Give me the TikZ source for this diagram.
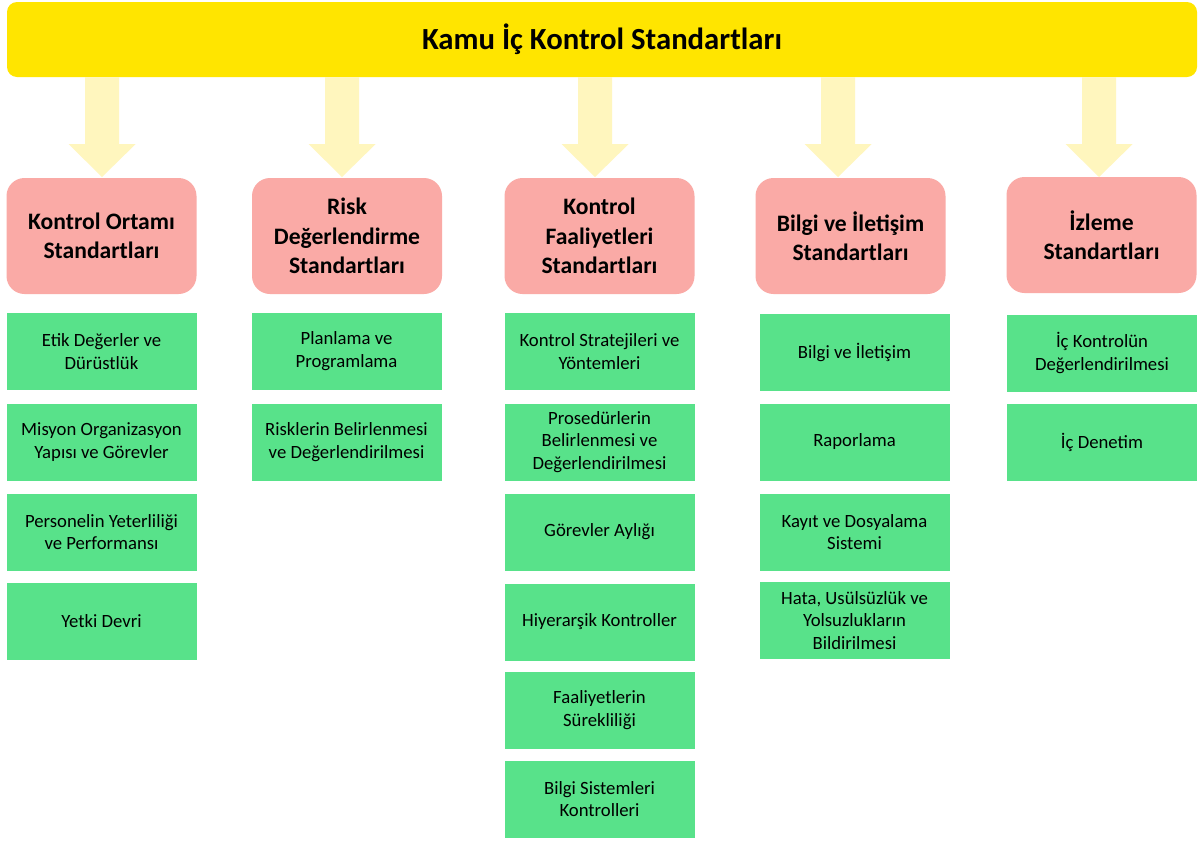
\documentclass[tikz,border=0pt]{standalone}
\usepackage{fontspec}
\setmainfont{Carlito}
\usetikzlibrary{calc}
\definecolor{baryellow}{RGB}{255,229,0}
\definecolor{arrowyellow}{RGB}{255,246,190}
\definecolor{pinkbox}{RGB}{250,170,166}
\definecolor{greenbox}{RGB}{88,226,138}
\begin{document}
\begin{tikzpicture}[x=1pt,y=-1pt,
  titlebar/.style={fill=baryellow, rounded corners=10pt, minimum width=1190pt, minimum height=75pt, inner sep=0pt, font=\fontsize{30.7}{36}\selectfont\bfseries},
  headbox/.style={fill=pinkbox, rounded corners=18pt, minimum width=190pt, minimum height=116pt, inner sep=0pt, align=center, font=\fontsize{23.6}{29.5}\selectfont\bfseries},
  itembox/.style={fill=greenbox, minimum width=190pt, minimum height=77pt, inner sep=0pt, align=center, font=\fontsize{18.7}{22.8}\selectfont},
  blockarrow/.style={fill=arrowyellow}]
\useasboundingbox (0,0) rectangle (1202,841);
\fill[white] (0,0) rectangle (1202,841);

\node[titlebar] (bar) at (602,39.5) {Kamu İç Kontrol Standartları};

% block arrows
\foreach \i/\x in {1/102,2/342,3/595,4/838,5/1099}{
  \coordinate (tip\i) at (\x,177);
  \fill[blockarrow] (bar.south -| tip\i) ++(-17,0) -- ++(34,0) -- ++(0,67) -- ++(16.5,0) -- (tip\i) -- ++(-33.5,-33) -- ++(16.5,0) -- cycle;
}

% headers
\node[headbox] (h1) at (101.5,236) {Kontrol Ortamı\\Standartları};
\node[headbox] (h2) at (347,236) {Risk\\Değerlendirme\\Standartları};
\node[headbox] (h3) at (599.5,236) {Kontrol\\Faaliyetleri\\Standartları};
\node[headbox] (h4) at (850.5,236) {Bilgi ve İletişim\\Standartları};
\node[headbox] (h5) at (1101.5,235) {İzleme\\Standartları};

% column 1
\node[itembox] (c11) at (101.5,351.5) {Etik Değerler ve\\Dürüstlük};
\node[itembox] (c12) at (101.5,442) {Misyon Organizasyon\\Yapısı ve Görevler};
\node[itembox] (c13) at (101.5,532) {Personelin Yeterliliği\\ve Performansı};
\node[itembox] (c14) at (101.5,621.5) {Yetki Devri};

% column 2
\node[itembox] (c21) at (346.5,351.5) {Planlama ve\\Programlama};
\node[itembox] (c22) at (346.5,442) {Risklerin Belirlenmesi\\ve Değerlendirilmesi};

% column 3
\node[itembox] (c31) at (599.5,351.5) {Kontrol Stratejileri ve\\Yöntemleri};
\node[itembox] (c32) at (599.5,442) {Prosedürlerin\\Belirlenmesi ve\\Değerlendirilmesi};
\node[itembox] (c33) at (599.5,532) {Görevler Aylığı};
\node[itembox] (c34) at (599.5,622) {Hiyerarşik Kontroller};
\node[itembox] (c35) at (599.5,710) {Faaliyetlerin\\Sürekliliği};
\node[itembox] (c36) at (599.5,799) {Bilgi Sistemleri\\Kontrolleri};

% column 4
\node[itembox] (c41) at (854.5,352) {Bilgi ve İletişim};
\node[itembox] (c42) at (854.5,442) {Raporlama};
\node[itembox] (c43) at (854.5,532) {Kayıt ve Dosyalama\\Sistemi};
\node[itembox] (c44) at (854.5,620.5) {Hata, Usülsüzlük ve\\Yolsuzlukların\\Bildirilmesi};

% column 5
\node[itembox] (c51) at (1102,353) {İç Kontrolün\\Değerlendirilmesi};
\node[itembox] (c52) at (1102,442) {İç Denetim};
\end{tikzpicture}
\end{document}
